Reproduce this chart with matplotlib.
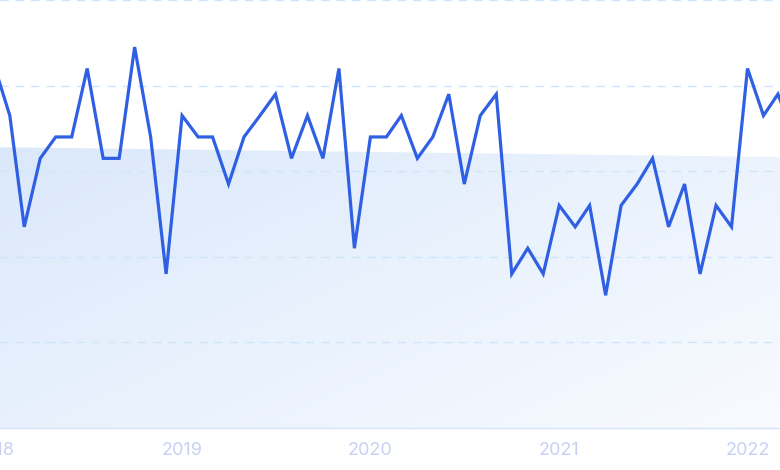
import numpy as np
import pandas as pd
import matplotlib
matplotlib.use("Agg")
import matplotlib.pyplot as plt
import matplotlib.dates as mdates
from matplotlib.patches import Polygon

# ---------- DATA ----------
# monthly interest values, Jan 2018 .. Apr 2022
months = pd.date_range("2018-01-01", "2022-04-01", freq="MS")
values = [85, 73, 47, 63, 68, 68, 84, 63, 63, 89, 68, 36,
          73, 68, 68, 57, 68, 73, 78, 63, 73, 63, 84, 42,
          68, 68, 73, 63, 68, 78, 57, 73, 78, 36, 42, 36,
          52, 47, 52, 31, 52, 57, 63, 47, 57, 36, 52, 47,
          84, 73, 78, 68]

# shaded trend band (start / end level)
trend_start = 65.6
trend_end = 63.3

year_labels = ["2018", "2019", "2020", "2021", "2022"]
grid_levels = [20, 40, 60, 80, 100]

# ---------- FIGURE ----------
fig = plt.figure(figsize=(7.8, 4.7), dpi=100)
ax = fig.add_axes([0, 42 / 470, 1, 428 / 470])

x0 = mdates.date2num(pd.Timestamp("2018-01-13"))
x1 = mdates.date2num(pd.Timestamp("2022-03-05"))
ax.set_xlim(x0, x1)
ax.set_ylim(0, 100)

# gradient band
band = Polygon([[x0, trend_start], [x1, trend_end], [x1, 0], [x0, 0]],
               closed=True, facecolor="none", edgecolor="none")
ax.add_patch(band)
c_a = np.array([218, 232, 251]) / 255
c_b = np.array([248, 251, 255]) / 255
gx, gy = np.meshgrid(np.linspace(0, 1, 200), np.linspace(0, 1, 200))
t = np.clip(0.55 * gx + 0.45 * gy, 0, 1)
img = c_a[None, None, :] * (1 - t[..., None]) + c_b[None, None, :] * t[..., None]
im = ax.imshow(img, extent=[x0, x1, 0, 70], origin="upper",
               aspect="auto", zorder=1, interpolation="bilinear")
im.set_clip_path(band)

# dashed gridlines
for lv in grid_levels:
    ax.axhline(lv, color="#cfe5fb", lw=1, dashes=(6, 5), zorder=2,
               clip_on=False)

# main line
ax.plot(mdates.date2num(months), values, color="#2f5fe3", lw=2.3,
        solid_joinstyle="miter", zorder=3)

# axes styling
for s in ["top", "left", "right"]:
    ax.spines[s].set_visible(False)
ax.spines["bottom"].set_color("#d6e2f7")
ax.spines["bottom"].set_linewidth(1)
ax.set_yticks([])
ax.set_xticks([])

# year labels (also the half-hidden 2018 at the left edge)
trans = ax.get_xaxis_transform()
for lab in year_labels:
    xd = mdates.date2num(pd.Timestamp(lab + "-01-01"))
    ax.text(xd, -0.052, lab, transform=trans, ha="center", va="center",
            fontsize=13, color="#c8d1f3", family=["Inter", "DejaVu Sans"],
            clip_on=False)

fig.savefig("out.png", dpi=100, facecolor="white")
